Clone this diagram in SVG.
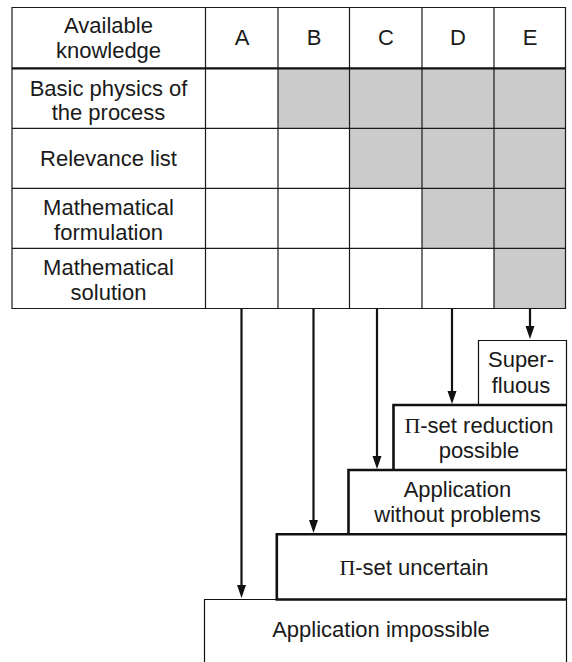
<svg xmlns="http://www.w3.org/2000/svg" width="572" height="662" viewBox="0 0 572 662">
<style>
text{font-family:"Liberation Sans",Arial,sans-serif;font-size:22px;fill:#1a1a1a;text-anchor:middle}
.pi{font-family:"Liberation Serif","Times New Roman",serif}
.grid{stroke:#1a1a1a;stroke-width:1.2;fill:none}
.gray{fill:#cbcbcb}
.thin{stroke:#111;stroke-width:1.2;fill:none}
.thick{stroke:#111;stroke-width:2.6;fill:none}
.arrow{stroke:#111;stroke-width:2.2;fill:none;marker-end:url(#ah)}
</style>
<defs>
<marker id="ah" markerUnits="userSpaceOnUse" markerWidth="14" markerHeight="10" refX="5" refY="4.5" orient="auto">
<path d="M0,0 L13,4.5 L0,9 Z" fill="#111"/>
</marker>
</defs>
<rect width="572" height="662" fill="#fff"/>

<g id="table">
<rect class="gray" x="278" y="68" width="287.5" height="60"/>
<rect class="gray" x="349.5" y="128" width="216" height="60"/>
<rect class="gray" x="422" y="188" width="143.5" height="60"/>
<rect class="gray" x="494" y="248" width="71.5" height="60"/>
<path class="grid" d="M12,7.5H565.5V308.5H12Z M205.5,7.5V308.5 M278,7.5V308.5 M349.5,7.5V308.5 M422,7.5V308.5 M494,7.5V308.5 M12,128.3H565.5 M12,188.3H565.5 M12,248.3H565.5"/>
<path d="M12,68.3H565.5" stroke="#111" stroke-width="2.2"/>
<g id="header">
<text x="108.5" y="33">Available</text>
<text x="108.5" y="58">knowledge</text>
<text x="242" y="45">A</text>
<text x="314" y="45">B</text>
<text x="386" y="45">C</text>
<text x="458" y="45">D</text>
<text x="530" y="45">E</text>
</g>
<g id="row-basic-physics">
<text x="108.5" y="96">Basic physics of</text>
<text x="108.5" y="120">the process</text>
</g>
<g id="row-relevance">
<text x="108.5" y="166">Relevance list</text>
</g>
<g id="row-formulation">
<text x="108.5" y="215">Mathematical</text>
<text x="108.5" y="240">formulation</text>
</g>
<g id="row-solution">
<text x="108.5" y="275">Mathematical</text>
<text x="108.5" y="300">solution</text>
</g>
</g>

<g id="application-impossible">
<path class="thin" d="M204.5,662V599.5H566.5"/>
<text x="381" y="637">Application impossible</text>
</g>
<g id="pi-set-uncertain">
<path class="thick" d="M566.5,599.5H276.8V534.3H566.5"/>
<text x="414" y="575"><tspan class="pi">Π</tspan>-set uncertain</text>
</g>
<g id="application-without-problems">
<path class="thick" d="M348.5,534.3V470H566.5"/>
<text x="457.5" y="497">Application</text>
<text x="457.5" y="522">without problems</text>
</g>
<g id="pi-set-reduction">
<path class="thick" d="M393.5,470V405H566.5"/>
<text x="479" y="433"><tspan class="pi">Π</tspan>-set reduction</text>
<text x="479" y="458">possible</text>
</g>
<g id="superfluous">
<path class="thin" d="M478.5,405V340.5H566.5"/>
<text x="521" y="367">Super-</text>
<text x="521" y="393">fluous</text>
</g>
<path class="thin" d="M566.5,340V662"/>

<g id="connectors">
<path class="arrow" d="M241.5,309V590"/>
<path class="arrow" d="M313.5,309V525"/>
<path class="arrow" d="M377,309V461"/>
<path class="arrow" d="M452,309V396"/>
<path class="arrow" d="M530,309V331"/>
</g>
</svg>
